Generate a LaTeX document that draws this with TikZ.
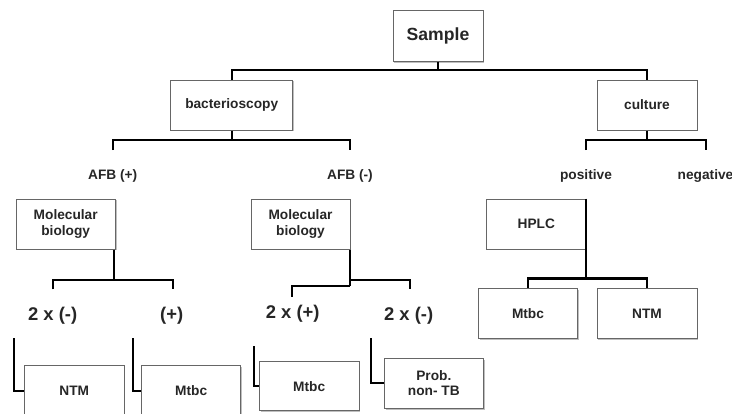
\documentclass[tikz,border=0pt]{standalone}
\usepackage{fontspec}
\setmainfont{Liberation Sans}
\usetikzlibrary{shadows}
\begin{document}
\begin{tikzpicture}[x=1pt,y=-1pt,
  box/.style={draw=black!60, line width=1pt, fill=white, minimum height=50pt, inner sep=0pt, align=center,
    font=\bfseries\fontsize{13.7}{15.7}\selectfont, text=black!85,
    drop shadow={shadow xshift=1.2pt, shadow yshift=-1.2pt, opacity=0.25, fill=black}},
  conn/.style={line width=2.2pt, draw=black},
  lbl/.style={font=\bfseries\fontsize{13.7}{16}\selectfont, text=black!85, inner sep=0pt},
  big/.style={font=\bfseries\fontsize{18.4}{20}\selectfont, text=black!85, inner sep=0pt}]
\useasboundingbox (0,0) rectangle (732,413);
% boxes
\node[box, minimum width=90pt, minimum height=51pt, font=\bfseries\fontsize{17.6}{20}\selectfont] (sample) at (438,36.3) {Sample};
\node[box, minimum width=122pt] (bact) at (231.7,105) {bacterioscopy};
\node[box, minimum width=100pt] (cult) at (647,105) {culture};
\node[box, minimum width=99.3pt] (mb1) at (65.7,224) {Molecular\\biology};
\node[box, minimum width=99pt] (mb2) at (300.5,224) {Molecular\\biology};
\node[box, minimum width=99.3pt] (hplc) at (536.3,224) {HPLC};
\node[box, minimum width=99.4pt] (mtbcR) at (528,313.3) {Mtbc};
\node[box, minimum width=100pt] (ntmR) at (647,313.3) {NTM};
\node[box, minimum width=99.7pt] (ntm1) at (74.2,390.7) {NTM};
\node[box, minimum width=99pt] (mtbc1) at (191.2,390.7) {Mtbc};
\node[box, minimum width=99.7pt, minimum height=49.3pt] (mtbc2) at (309.2,386.3) {Mtbc};
\node[box, minimum width=99pt, font=\bfseries\fontsize{13.7}{15}\selectfont] (prob) at (433.8,383.3) {Prob.\\non- TB};
% labels
\node[lbl] (afbp) at (112.7,176) {AFB (+)};
\node[lbl] (afbm) at (350,176) {AFB (-)};
\node[lbl] (pos) at (586,176) {positive};
\node[lbl] (neg) at (705.5,176) {negative};
\node[big] (l1) at (52.7,316) {2 x (-)};
\node[big] (l2) at (171.7,316) {(+)};
\node[big] (l3) at (292.7,314) {2 x (+)};
\node[big] (l4) at (408.7,316) {2 x (-)};
% free ends
\coordinate (afbpT) at (112.7,150);
\coordinate (afbmT) at (350,150);
\coordinate (posT) at (586,150);
\coordinate (negT) at (706,150);
\coordinate (m1a) at (53.3,289.3);
\coordinate (m1b) at (172.7,289.3);
\coordinate (m2a) at (291.7,296.7);
\coordinate (m2b) at (410,289.3);
\coordinate (k1) at (14,338.3);
\coordinate (k2) at (132.7,338.3);
\coordinate (k3) at (254,346);
\coordinate (k4) at (370.7,338.3);
% connectors
\draw[conn] (sample.south) -- ++(0,8) coordinate (s1);
\draw[conn] (bact.north) |- (s1) -| (cult.north);
\draw[conn] (bact.south) -- ++(0,9.3) coordinate (b1);
\draw[conn] (afbpT) |- (b1) -| (afbmT);
\draw[conn] (cult.south) -- ++(0,9.3) coordinate (c1);
\draw[conn] (posT) |- (c1) -| (negT);
\draw[conn] ([xshift=-2pt]mb1.south east) -- ++(0,30.3) coordinate (m1);
\draw[conn] (m1a) |- (m1) -| (m1b);
\draw[conn] ([xshift=-0.5pt]mb2.south east) -- ++(0,36.7) coordinate (m2);
\draw[conn] (m2a) |- (m2);
\path ([xshift=-0.5pt]mb2.south east) ++(0,30.3) coordinate (m2j);
\draw[conn] (m2j) -| (m2b);
\draw[conn] ([xshift=-0.5pt]hplc.north east) -- ++(0,80) coordinate (h1);
\draw[conn] (mtbcR.north) |- (h1) -| (ntmR.north);
\draw[conn] (k1) |- (ntm1.west);
\draw[conn] (k2) |- (mtbc1.west);
\draw[conn] (k3) |- (mtbc2.west);
\draw[conn] (k4) |- (prob.west);
\end{tikzpicture}
\end{document}
